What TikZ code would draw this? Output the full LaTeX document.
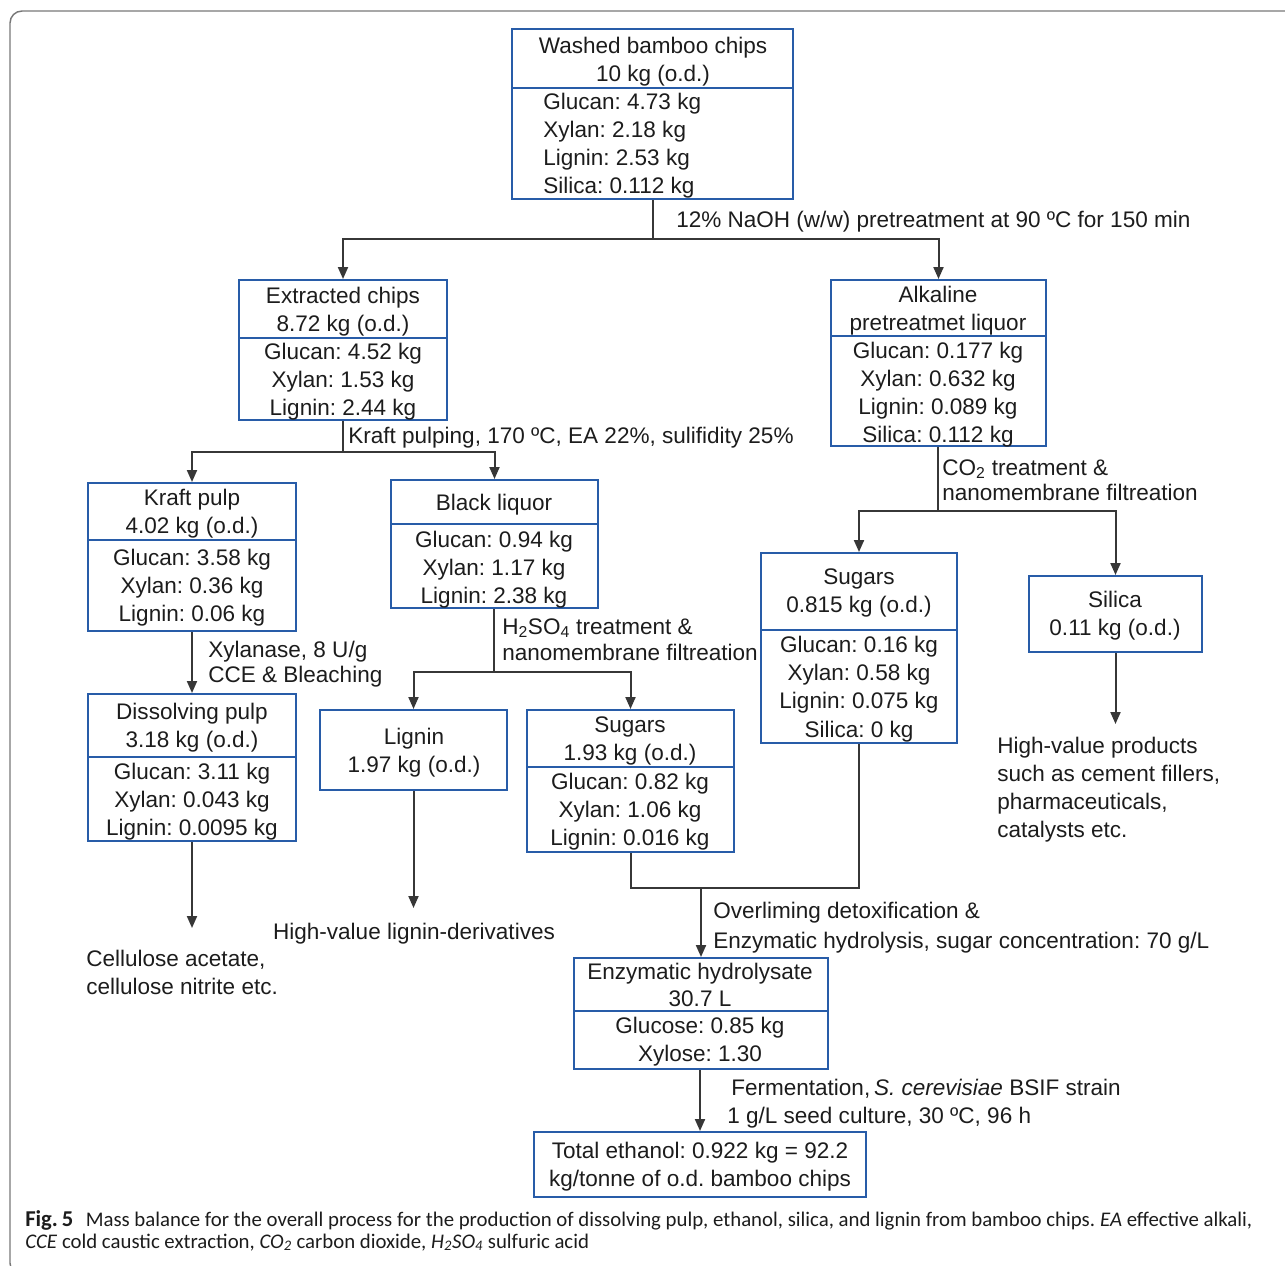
\documentclass[tikz,border=0pt]{standalone}
\usepackage{fontspec}
\setmainfont{Liberation Sans}
\newfontfamily\capfont{Carlito}
\usetikzlibrary{arrows.meta,fit}
\definecolor{boxblue}{RGB}{40,92,168}
\definecolor{linegray}{RGB}{55,55,55}
\definecolor{txtcol}{RGB}{28,28,28}
\definecolor{framegray}{RGB}{120,120,120}
\newcommand\bx[3]{\node[box, fit={(#2) (#3)}] (#1) {};}
\newcommand\dv[2]{\draw[boxblue, line width=1.5pt] (#1.west |- 0,#2) -- (#1.east |- 0,#2);}
\newcommand\tx[4][base]{\node[txt,anchor=#1] (#2) at (#3) {#4};}
\frenchspacing
\begin{document}
\begin{tikzpicture}[x=0.75pt,y=-0.75pt,
  box/.style={draw=boxblue, line width=1.5pt, inner sep=0pt},
  txt/.style={text=txtcol, font=\fontsize{16.9}{21}\selectfont, inner sep=0pt},
  ln/.style={draw=linegray, line width=1.5pt},
  arr/.style={ln, -{Triangle[length=9pt,width=7.5pt]}},
  captxt/.style={text=txtcol, inner sep=0pt, anchor=base west, font=\capfont\fontsize{15.6}{17}\selectfont}
]
\useasboundingbox (0,0) rectangle (1285,1265);
\begin{scope}
\clip (0,0) rectangle (1285,1265);
\draw[framegray, line width=1.1pt, rounded corners=9pt] (10,11) rectangle (1310,1275);
\end{scope}

% boxes
\bx{wb}{512,29}{793,199} \dv{wb}{88}
\bx{ec}{239,280}{447,420} \dv{ec}{338}
\bx{al}{831,280}{1046,446} \dv{al}{336}
\bx{kp}{88,483}{296,631} \dv{kp}{540}
\bx{bl}{391,480}{598,608} \dv{bl}{524}
\bx{dp}{88,694}{296,841} \dv{dp}{757}
\bx{lg}{320,710}{507,790}
\bx{sa}{527,710}{734,852} \dv{sa}{767}
\bx{sb}{761,553}{957,743} \dv{sb}{630}
\bx{si}{1029,576}{1202,652}
\bx{eh}{574,958}{828,1069} \dv{eh}{1011}
\bx{te}{534,1132}{866,1197}

% texts in boxes
\tx{wb1}{653,53}{Washed bamboo chips}
\tx{wb2}{653,81}{10 kg (o.d.)}
\tx[base west]{wb3}{543,109}{Glucan: 4.73 kg}
\tx[base west]{wb4}{543,137}{Xylan: 2.18 kg}
\tx[base west]{wb5}{543,165}{Lignin: 2.53 kg}
\tx[base west]{wb6}{543,193}{Silica: 0.112 kg}

\tx{ec1}{343,303}{Extracted chips}
\tx{ec2}{343,331}{8.72 kg (o.d.)}
\tx{ec3}{343,359}{Glucan: 4.52 kg}
\tx{ec4}{343,387}{Xylan: 1.53 kg}
\tx{ec5}{343,415}{Lignin: 2.44 kg}

\tx{al1}{938,302}{Alkaline}
\tx{al2}{938,330}{pretreatmet liquor}
\tx{al3}{938,358}{Glucan: 0.177 kg}
\tx{al4}{938,386}{Xylan: 0.632 kg}
\tx{al5}{938,414}{Lignin: 0.089 kg}
\tx{al6}{938,442}{Silica: 0.112 kg}

\tx{kp1}{192,505}{Kraft pulp}
\tx{kp2}{192,533}{4.02 kg (o.d.)}
\tx{kp3}{192,565}{Glucan: 3.58 kg}
\tx{kp4}{192,593}{Xylan: 0.36 kg}
\tx{kp5}{192,621}{Lignin: 0.06 kg}

\tx{bl1}{494,510}{Black liquor}
\tx{bl2}{494,547}{Glucan: 0.94 kg}
\tx{bl3}{494,575}{Xylan: 1.17 kg}
\tx{bl4}{494,603}{Lignin: 2.38 kg}

\tx{dp1}{192,719}{Dissolving pulp}
\tx{dp2}{192,747}{3.18 kg (o.d.)}
\tx{dp3}{192,779}{Glucan: 3.11 kg}
\tx{dp4}{192,807}{Xylan: 0.043 kg}
\tx{dp5}{192,835}{Lignin: 0.0095 kg}

\tx{lg1}{414,744}{Lignin}
\tx{lg2}{414,772}{1.97 kg (o.d.)}

\tx{sa1}{630,732}{Sugars}
\tx{sa2}{630,760}{1.93 kg (o.d.)}
\tx{sa3}{630,789}{Glucan: 0.82 kg}
\tx{sa4}{630,817}{Xylan: 1.06 kg}
\tx{sa5}{630,845}{Lignin: 0.016 kg}

\tx{sb1}{859,584}{Sugars}
\tx{sb2}{859,612}{0.815 kg (o.d.)}
\tx{sb3}{859,652}{Glucan: 0.16 kg}
\tx{sb4}{859,680}{Xylan: 0.58 kg}
\tx{sb5}{859,708}{Lignin: 0.075 kg}
\tx{sb6}{859,737}{Silica: 0 kg}

\tx{si1}{1115,607}{Silica}
\tx{si2}{1115,635}{0.11 kg (o.d.)}

\tx{eh1}{700,979}{Enzymatic hydrolysate}
\tx{eh2}{700,1006}{30.7 L}
\tx{eh3}{700,1033}{Glucose: 0.85 kg}
\tx{eh4}{700,1061}{Xylose: 1.30}

\tx{te1}{700,1158}{Total ethanol: 0.922 kg = 92.2}
\tx{te2}{700,1186}{kg/tonne of o.d. bamboo chips}

% connector labels
\tx[base west]{l1}{676,227}{12\% NaOH (w/w) pretreatment at 90 ºC for 150 min}
\tx[base west]{l2}{348,443}{Kraft pulping, 170 ºC, EA 22\%, sulifidity 25\%}
\tx[base west]{l3a}{942,475}{CO\textsubscript{2} treatment \&}
\tx[base west]{l3b}{942,500}{nanomembrane filtreation}
\tx[base west]{l4a}{208,657}{Xylanase, 8 U/g}
\tx[base west]{l4b}{208,682}{CCE \& Bleaching}
\tx[base west]{l5a}{502,634}{H\textsubscript{2}SO\textsubscript{4} treatment \&}
\tx[base west]{l5b}{502,660}{nanomembrane filtreation}
\tx[base west]{l6a}{713,918}{Overliming detoxification \&}
\tx[base west]{l6b}{713,948}{Enzymatic hydrolysis, sugar concentration: 70 g/L}
\tx[base west]{l7a}{731,1095}{Fermentation,\,\textit{S. cerevisiae} BSIF strain}
\tx[base west]{l7b}{727,1123}{1 g/L seed culture, 30 ºC, 96 h}

% outputs
\tx[base west]{o1a}{86,966}{Cellulose acetate,}
\tx[base west]{o1b}{86,994}{cellulose nitrite etc.}
\tx{o2}{414,939}{High-value lignin-derivatives}
\tx[base west]{o3a}{997,753}{High-value products}
\tx[base west]{o3b}{997,781}{such as cement fillers,}
\tx[base west]{o3c}{997,809}{pharmaceuticals,}
\tx[base west]{o3d}{997,837}{catalysts etc.}

% junctions and free ends
\coordinate (j1) at (653,239);
\coordinate (j2) at (343,452);
\coordinate (j3) at (938,511);
\coordinate (j4) at (494,672);
\coordinate (j5) at (701,888);
\coordinate (e1) at (192,928);
\coordinate (e2) at (413.5,908);
\coordinate (e3) at (1115.5,724);

% connectors
\draw[ln] (wb.south -| j1) -- (j1);
\draw[arr] (j1) -| (ec.north);
\draw[arr] (j1) -| (al.north);
\draw[ln] (ec.south) -- (j2);
\draw[arr] (j2) -| (kp.north);
\draw[arr] (j2) -| (bl.north);
\draw[ln] (al.south -| j3) -- (j3);
\draw[arr] (j3) -| (sb.north);
\draw[arr] (j3) -| (si.north);
\draw[arr] (kp.south) -- (dp.north);
\draw[ln] (bl.south -| j4) -- (j4);
\draw[arr] (j4) -| (lg.north);
\draw[arr] (j4) -| (sa.north);
\draw[arr] (dp.south) -- (e1);
\draw[arr] (lg.south) -- (e2);
\draw[arr] (si.south) -- (e3);
\draw[ln] (sa.south) |- (j5);
\draw[ln] (sb.south) |- (j5);
\draw[arr] (j5) -- (eh.north);
\draw[arr] (eh.south -| te.north) -- (te.north);

% caption
\node[captxt] (cap1) at (25,1226) {{\fontsize{17}{17}\selectfont\textbf{Fig.\,5}}\hspace{0.6em}Mass balance for the overall process for the production of dissolving pulp, ethanol, silica, and lignin from bamboo chips. \textit{EA} effective alkali,};
\node[captxt] (cap2) at (25,1248) {\textit{CCE} cold caustic extraction, \textit{CO\textsubscript{2}} carbon dioxide, \textit{H\textsubscript{2}SO\textsubscript{4}} sulfuric acid};
\end{tikzpicture}
\end{document}
